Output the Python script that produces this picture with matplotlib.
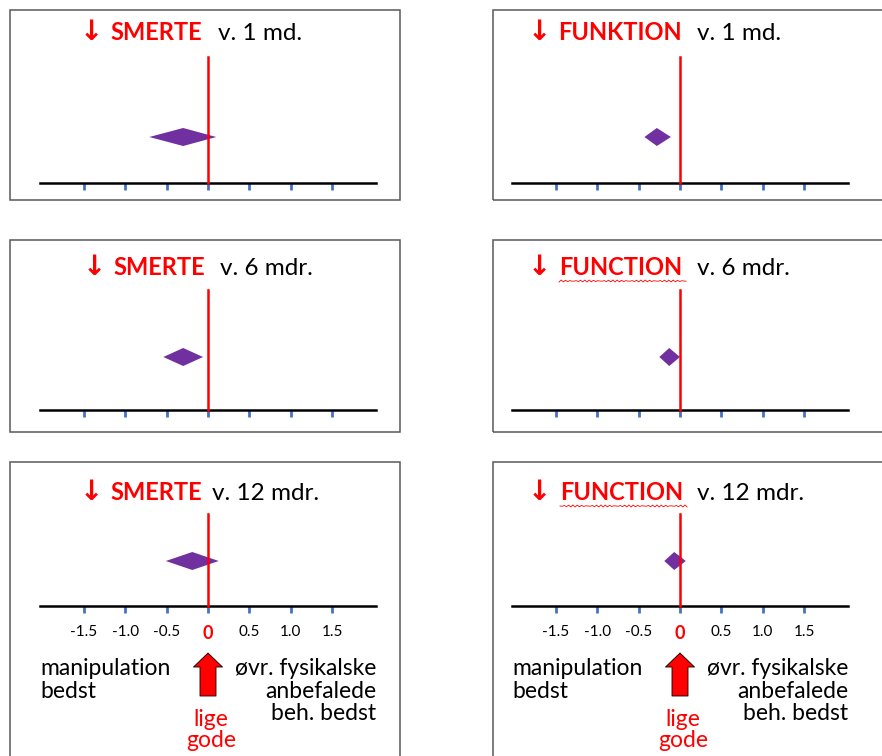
import matplotlib
matplotlib.use('Agg')
import matplotlib.pyplot as plt
import numpy as np
from matplotlib.patches import Rectangle

plt.rcParams['font.family'] = ['Lato', 'DejaVu Sans']

W, H = 882, 756
PX = 82.7  # pixels per effect-size unit

# titles
words = [['SMERTE', 'SMERTE', 'SMERTE'], ['FUNKTION', 'FUNCTION', 'FUNCTION']]
times = ['v. 1 md.', 'v. 6 mdr.', 'v. 12 mdr.']

# effect estimate with lower / upper limit (diamonds)
smerte_est = [-0.30, -0.30, -0.19]
smerte_low = [-0.71, -0.54, -0.51]
smerte_high = [0.10, -0.06, 0.13]
funktion_est = [-0.28, -0.13, -0.07]
funktion_low = [-0.43, -0.25, -0.19]
funktion_high = [-0.11, 0.00, 0.07]

tick_vals = [-1.5, -1.0, -0.5, 0, 0.5, 1.0, 1.5]
tick_labels = ['-1.5', '-1.0', '-0.5', '0', '0.5', '1.0', '1.5']

# layout in pixels
rows = [dict(top=10, bottom=200, axis=183, diamond=137, redtop=57, base=40),
        dict(top=240, bottom=432, axis=410, diamond=357, redtop=290, base=275),
        dict(top=462, bottom=780, axis=606, diamond=561, redtop=514, base=500)]
cols = [dict(left=10, right=400, zero=208, arrow=[80, 83, 80], word=[110, 113, 110], time=[218, 220, 212]),
        dict(left=493, right=900, zero=680, arrow=[528, 528, 528], word=[558, 559, 560], time=[697, 697, 697])]

est = [smerte_est, funktion_est]
low = [smerte_low, funktion_low]
high = [smerte_high, funktion_high]

fig = plt.figure(figsize=(W / 100, H / 100), dpi=100)
fig.patch.set_facecolor('white')
renderer = fig.canvas.get_renderer()

for c, col in enumerate(cols):
    for r, row in enumerate(rows):
        l, rt, t, b = col['left'], col['right'], row['top'], row['bottom']
        ax = fig.add_axes([l / W, 1 - b / H, (rt - l) / W, (b - t) / H])
        ax.set_xlim((l - col['zero']) / PX, (rt - col['zero']) / PX)
        # y = pixels above the axis line
        ax.set_ylim(row['axis'] - b, row['axis'] - t)
        for s in ['top', 'left', 'right']:
            ax.spines[s].set_visible(False)
        ax.spines['bottom'].set_position(('data', 0))
        ax.spines['bottom'].set_bounds(-168 / PX, 168 / PX)
        ax.spines['bottom'].set_linewidth(1.8)
        ax.spines['bottom'].set_color('black')
        ax.spines['bottom'].set_zorder(3)
        ax.set_yticks([])
        ax.set_xticks(tick_vals)
        ax.tick_params(axis='x', direction='out', length=5, width=2, color='#4472C4',
                       pad=9, labelsize=11)
        ax.xaxis.get_major_ticks()[3].tick1line.set_color('red')
        if r == 2:
            ax.set_xticklabels(tick_labels)
            zl = ax.get_xticklabels()[3]
            zl.set_color('red')
            zl.set_fontweight('bold')
            zl.set_fontsize(13)
        else:
            ax.set_xticklabels([])

        # box
        ax.add_patch(Rectangle((0, 0), 1, 1, transform=ax.transAxes, fill=False,
                               ec='#595959', lw=1.1, clip_on=False))
        # line of no effect
        ax.plot([0, 0], [0, row['axis'] - row['redtop']], color='red', lw=1.8, zorder=4)
        # diamond
        d = row['axis'] - row['diamond']
        ax.fill([low[c][r], est[c][r], high[c][r], est[c][r]], [d, d + 9, d, d - 9],
                color='#7030A0', lw=0, zorder=2)

        # title
        y = 1 - row['base'] / H
        fig.text(col['arrow'][r] / W, y, '\u2193', color='red', fontsize=20,
                 fontweight='bold', va='baseline', family=['DejaVu Sans'])
        wt = fig.text(col['word'][r] / W, y, words[c][r], color='red', fontsize=17,
                      fontweight='bold', va='baseline')
        fig.text(col['time'][r] / W, y, times[r], color='black', fontsize=17.5, va='baseline')
        if words[c][r] == 'FUNCTION':
            bb = wt.get_window_extent(renderer)
            xs = np.linspace(bb.x0, bb.x1 + 4, 60)
            ys = H - row['base'] - 6 + 1.0 * np.sin(xs * 2 * np.pi / 4)
            fig.add_artist(plt.Line2D(xs / W, ys / H, color='red', lw=0.6))

        # bottom explanation
        if r == 2:
            z = col['zero']
            fig.text((z - 168) / W, 1 - 658 / H, 'manipulation\nbedst', fontsize=16.5,
                     va='top', ha='left', linespacing=1.1)
            fig.text((z + 168) / W, 1 - 658 / H, '\u00f8vr. fysikalske\nanbefalede\nbeh. bedst',
                     fontsize=16.5, va='top', ha='right', multialignment='right', linespacing=1.1)
            fig.text((z + 3) / W, 1 - 709 / H, 'lige\ngode', fontsize=16.5, color='red',
                     va='top', ha='center', linespacing=1.0)
            ax.annotate('', xy=(z, H - 653), xycoords='figure pixels',
                        xytext=(z, H - 696), textcoords='figure pixels',
                        arrowprops=dict(arrowstyle='simple,head_length=0.7,head_width=1.45,tail_width=0.8',
                                        mutation_scale=14.4, fc='red', ec='black', lw=0.6,
                                        shrinkA=0, shrinkB=0))

fig.savefig('out.png', dpi=100)
